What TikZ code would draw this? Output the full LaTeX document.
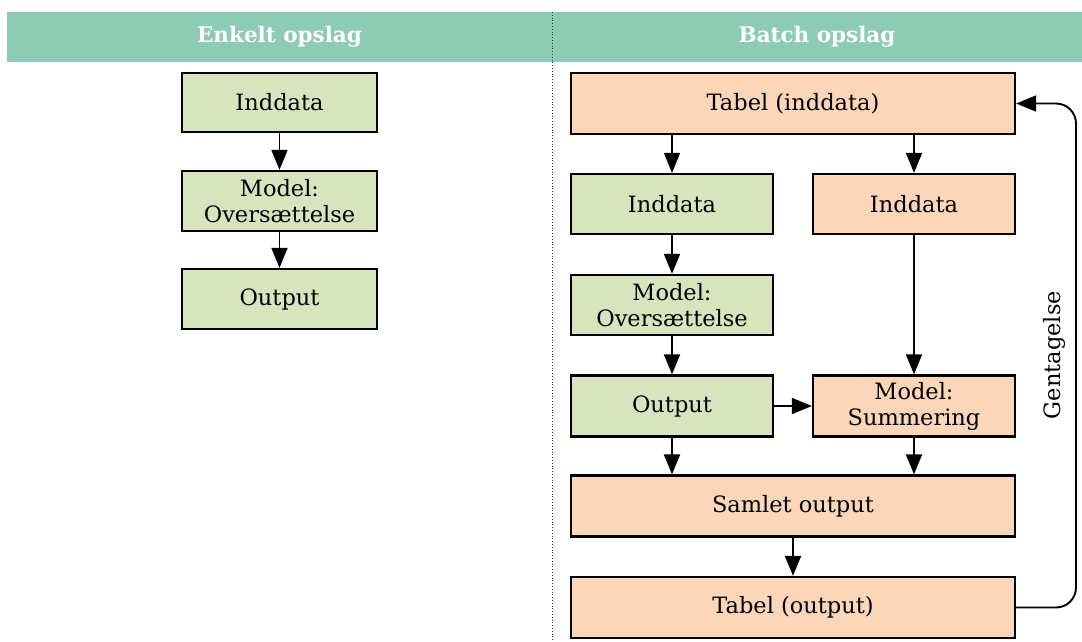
\documentclass[tikz,border=0pt]{standalone}
\usepackage{fontspec}
\setmainfont{DejaVu Serif}
\usetikzlibrary{arrows.meta}
\definecolor{headfill}{HTML}{8DCBB4}
\definecolor{greenfill}{HTML}{D7E4BD}
\definecolor{orangefill}{HTML}{FBD6B8}
\begin{document}
\begin{tikzpicture}[x=1pt,y=-1pt,
  box/.style={draw=black, line width=2.3pt, inner sep=0pt, align=center,
    font=\fontsize{22.5}{26}\selectfont},
  gbox/.style={box, fill=greenfill},
  obox/.style={box, fill=orangefill},
  arr/.style={-{Triangle[length=20pt,width=16pt]}, line width=1.9pt},
  headtext/.style={text=white, font=\fontsize{21.5}{24}\selectfont\bfseries},
]
\useasboundingbox (0,0) rectangle (1082,642);

% header band and column divider
\fill[headfill] (7,12) rectangle (1082,62);
\node[headtext] (hleft) at (279.5,37) {Enkelt opslag};
\node[headtext] (hright) at (817,37) {Batch opslag};
\draw[dotted, line width=0.8pt, black!80] (552,12) -- (552,642);

% single lookup
\node[gbox, minimum width=195, minimum height=59] (l1) at (279.5,102.5) {Inddata};
\node[gbox, minimum width=195, minimum height=60] (l2) at (279.5,201) {Model:\\Oversættelse};
\node[gbox, minimum width=195, minimum height=60] (l3) at (279.5,299) {Output};
\draw[arr] (l1) -- (l2);
\draw[arr] (l2) -- (l3);

% batch lookup
\node[obox, minimum width=444, minimum height=61] (t1) at (793,103.5) {Tabel (inddata)};
\node[gbox, minimum width=202, minimum height=60] (g1) at (672,204) {Inddata};
\node[obox, minimum width=202, minimum height=60] (o1) at (914,204) {Inddata};
\node[gbox, minimum width=202, minimum height=60] (g2) at (672,305) {Model:\\Oversættelse};
\node[gbox, minimum width=202, minimum height=61] (g3) at (672,406) {Output};
\node[obox, minimum width=202, minimum height=61] (o2) at (914,406) {Model:\\Summering};
\node[obox, minimum width=444, minimum height=61] (s) at (793,506) {Samlet output};
\node[obox, minimum width=444, minimum height=61] (t2) at (793,607.5) {Tabel (output)};

\draw[arr] (t1.south -| g1) -- (g1);
\draw[arr] (t1.south -| o1) -- (o1);
\draw[arr] (g1) -- (g2);
\draw[arr] (g2) -- (g3);
\draw[arr] (o1) -- (o2);
\draw[arr] (g3) -- (o2);
\draw[arr] (g3) -- (g3 |- s.north);
\draw[arr] (o2) -- (o2 |- s.north);
\draw[arr] (s) -- (t2);

% repetition loop
\coordinate (loopx) at (1076,0);
\draw[arr, rounded corners=20pt] (t2.east) -- (t2.east -| loopx) -- (t1.east -| loopx) -- (t1.east);
\node[rotate=90, font=\fontsize{22.5}{26}\selectfont] (rep) at (1054,355) {Gentagelse};
\end{tikzpicture}
\end{document}
